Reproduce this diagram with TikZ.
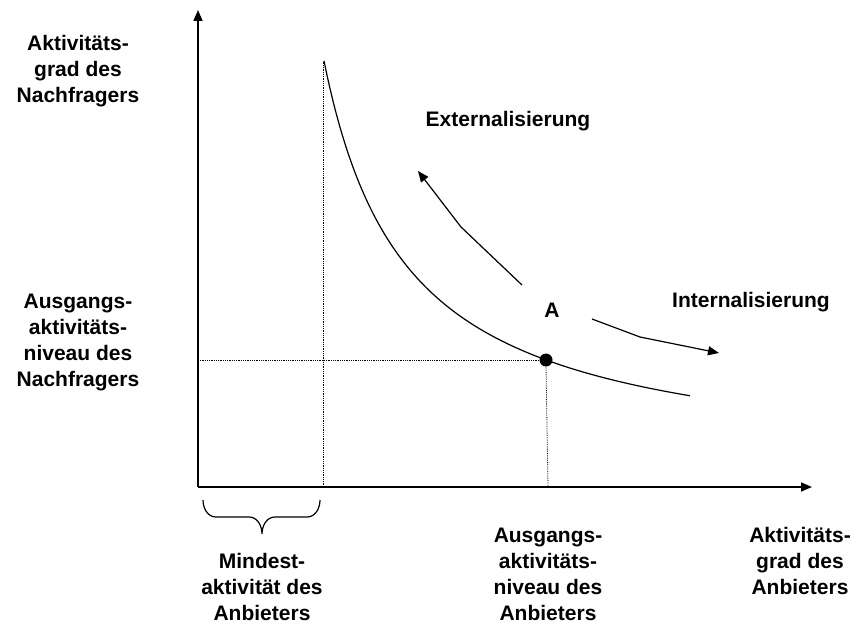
\documentclass[tikz,border=0pt]{standalone}
\usepackage{fontspec}
\setmainfont{Liberation Sans}
\usetikzlibrary{arrows.meta}
\begin{document}
\begin{tikzpicture}[x=1pt,y=-1pt,
  lbl/.style={font=\bfseries\fontsize{21}{26}\selectfont,align=center,inner sep=0pt},
  axis/.style={line width=1.6pt,-{Triangle[length=11pt,width=9pt]}},
  dots/.style={densely dotted,line width=0.8pt},
  flow/.style={line width=1.2pt,-{Triangle[length=11pt,width=9pt]}},
  bracestyle/.style={line width=1.2pt}]
\useasboundingbox (0,0) rectangle (858,628);
\coordinate (O) at (198,487);
\coordinate (ytip) at (198,10);
\coordinate (xtip) at (812,487);
\coordinate (mtop) at (323,62);
\coordinate (mbot) at (323,487);
\coordinate (yA) at (198,360);
\coordinate (xA) at (548,487);
\draw[axis] (O) -- (ytip);
\draw[axis] (O) -- (xtip);
\draw[dots] (mbot) -- (mtop);
\draw[line width=1.2pt] plot[domain=324:690,samples=120] (\x,{471.7-341/((\x-241)/100)});
\node[circle,fill=black,inner sep=0pt,minimum size=13pt] (A) at (546,360) {};
\draw[dots] (yA) -- (A.west);
\draw[dots] (A.south) -- (xA);
\coordinate (e1) at (522,285);
\coordinate (e2) at (461,227);
\coordinate (e3) at (418,171);
\draw[flow] (e1) -- (e2) -- (e3);
\coordinate (i1) at (592,319);
\coordinate (i2) at (640,337);
\coordinate (i3) at (719,353);
\draw[flow] (i1) -- (i2) -- (i3);
\node[lbl] (lA) at (552,310) {A};
\node[lbl] (lext) at (508,121) {Externalisierung};
\node[lbl] (lint) at (751,302) {Internalisierung};
\node[lbl] (ly) at (78,71) {Aktivitäts-\\grad des\\Nachfragers};
\node[lbl] (lyA) at (78,342) {Ausgangs-\\aktivitäts-\\niveau des\\Nachfragers};
\coordinate (bl) at (203,500);
\coordinate (bl2) at (216,517);
\coordinate (bm1) at (249,517);
\coordinate (bt) at (262,534);
\coordinate (bm2) at (275,517);
\coordinate (br2) at (307,517);
\coordinate (br) at (320,500);
\draw[bracestyle] (bl) to[out=-90,in=180] (bl2) -- (bm1) to[out=0,in=90] (bt)
  to[out=90,in=180] (bm2) -- (br2) to[out=0,in=-90] (br);
\node[lbl] (lmin) at (262,587) {Mindest-\\aktivität des\\Anbieters};
\node[lbl] (lxA) at (548,574) {Ausgangs-\\aktivitäts-\\niveau des\\Anbieters};
\node[lbl] (lx) at (800,561) {Aktivitäts-\\grad des\\Anbieters};
\end{tikzpicture}
\end{document}
